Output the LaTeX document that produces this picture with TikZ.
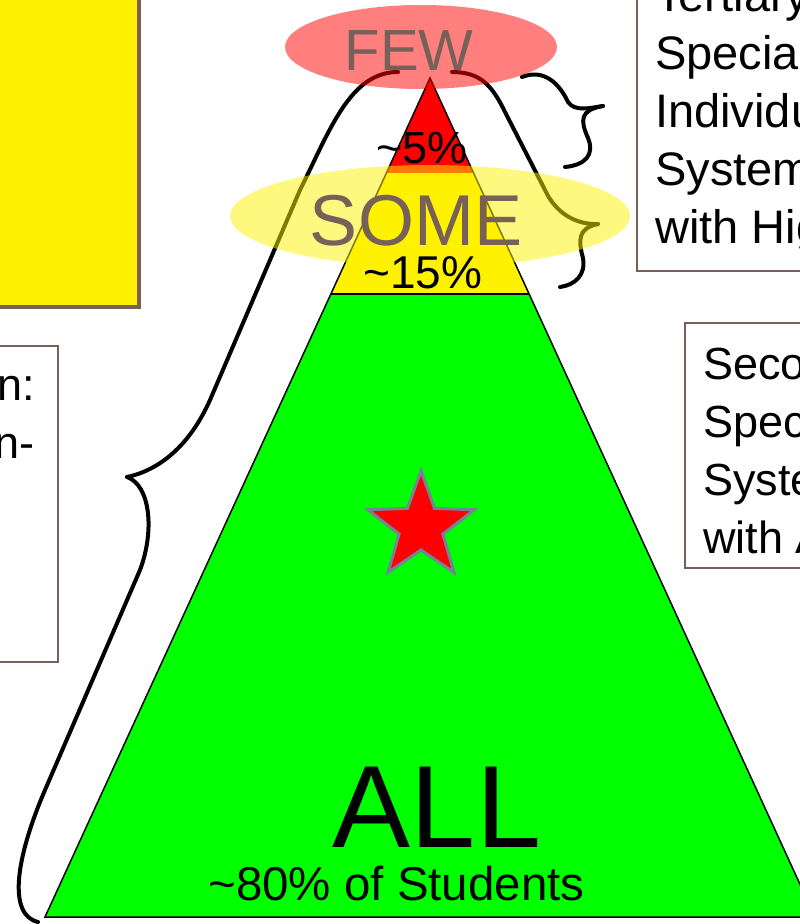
\documentclass[tikz,border=0pt]{standalone}
\usepackage{fontspec}
\setmainfont{Liberation Sans}
\newcommand\pxsize[1]{\fontsize{#1pt}{#1pt}\selectfont}
\definecolor{framebrown}{RGB}{119,96,88}
\definecolor{stargray}{RGB}{120,130,150}
\definecolor{tiergreen}{RGB}{0,255,0}
\begin{document}
\begin{tikzpicture}[x=1pt,y=-1pt,
  boxline/.style={draw=framebrown,line width=1.5pt,fill=white},
  boxtext/.style={inner sep=0pt,anchor=base west,font=\pxsize{45}},
  toptext/.style={boxtext,font=\pxsize{47}},
  brace/.style={line width=4pt,line cap=round,line join=round},
  pct/.style={inner sep=0pt,anchor=base,font=\pxsize{46}},
  tierword/.style={inner sep=0pt,anchor=base,text=framebrown}]
\useasboundingbox (0,0) rectangle (800,924);
\clip (0,0) rectangle (800,924);

% side panels
\draw[draw=framebrown,line width=4pt,fill=yellow] (-20,-20) rectangle (139,307);
\draw[boxline] (-20,346) rectangle (58,662);
\draw[boxline] (637,-20) rectangle (820,271);
\draw[boxline] (685,323) rectangle (820,568);

% triangle tiers
\coordinate (apex) at (430,78);
\coordinate (bl) at (45,917);
\coordinate (br) at (815,917);
\coordinate (ml) at (386.4,173);
\coordinate (mr) at (473.6,173);
\coordinate (gl) at (330.9,294);
\coordinate (gr) at (529.1,294);
\fill[red] (apex) -- (mr) -- (ml) -- cycle;
\fill[yellow] (ml) -- (mr) -- (gr) -- (gl) -- cycle;
\fill[tiergreen] (gl) -- (gr) -- (br) -- (bl) -- cycle;
\draw[line width=1.5pt,line join=miter] (apex) -- (br) -- (bl) -- cycle;
\draw[line width=2.5pt] (gl) -- (gr);

% star
\draw[fill=red,draw=stargray,line width=3pt,line join=miter,shift={(421,527)}]
  (-90:56) \foreach \k in {1,...,9} {
    -- ({-90+36*\k}:{ifthenelse(mod(\k,2)==1,23,56)}) } -- cycle;

% braces
\draw[brace] (398,72) .. controls (350,72) and (330,130) .. (300,190)
  -- (210,400) .. controls (190,445) and (160,470) .. (127,477);
\draw[brace] (127,477) .. controls (150,485) and (155,530) .. (140,570)
  -- (45,790) .. controls (15,860) and (8,915) .. (38,922);
\draw[brace] (522,77) .. controls (545,68) and (560,85) .. (568,102)
  .. controls (575,112) and (590,108) .. (603,106);
\draw[brace] (603,106) .. controls (580,110) and (580,120) .. (588,138)
  .. controls (595,155) and (585,165) .. (565,167);
\draw[brace] (452,72) .. controls (480,72) and (492,85) .. (505,112)
  -- (545,190) .. controls (555,212) and (575,225) .. (598,224);
\draw[brace] (598,224) .. controls (578,228) and (578,240) .. (583,258)
  .. controls (586,275) and (575,285) .. (560,287);

% tier highlights
\fill[red,opacity=0.5] (421,47) ellipse [x radius=136,y radius=42];
\fill[yellow,opacity=0.5] (430,216) ellipse [x radius=200,y radius=51];

% tier labels
\node[tierword,font=\pxsize{58}] (few) at (409,70) {FEW};
\node[tierword,font=\pxsize{72}] (some) at (416,245) {SOME};
\node[pct,font=\pxsize{45}] (p5) at (422,163) {\char"7E 5\%};
\node[pct] (p15) at (423,288) {\char"7E 15\%};
\node[inner sep=0pt,anchor=base,font=\pxsize{117}] (all) at (437,847) {ALL};
\node[pct,font=\pxsize{47.5}] (p80) at (396.5,900) {\char"7E 80\% of Students};

% panel texts
\node[toptext] (t1) at (655,11) {Tertiary};
\node[toptext] (t2) at (655,69) {Special};
\node[toptext] (t3) at (655,127) {Individu};
\node[toptext] (t4) at (655,185) {System};
\node[toptext] (t5) at (655,243) {with Hig};
\node[boxtext] (s1) at (703,379) {Secon};
\node[boxtext] (s2) at (703,437) {Speci};
\node[boxtext] (s3) at (703,495) {Syste};
\node[boxtext] (s4) at (703,553) {with A};
\node[boxtext,anchor=base east] (u1) at (35,400) {n:};
\node[boxtext,anchor=base east] (u2) at (35,458) {n-};
\end{tikzpicture}
\end{document}
